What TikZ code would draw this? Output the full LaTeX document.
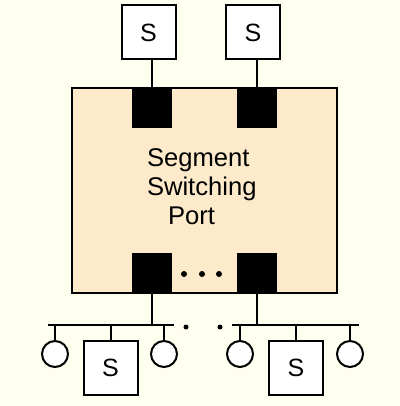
\documentclass[tikz,border=0pt]{standalone}
\usepackage{fontspec}
\setmainfont{Liberation Sans}
\usetikzlibrary{positioning}
\definecolor{paper}{HTML}{FFFFF0}
\definecolor{peach}{HTML}{FCEACB}
\begin{document}
\begin{tikzpicture}[x=0.5pt,y=-0.5pt,line width=1pt]
\tikzstyle{every node}+=[inner sep=0pt]
\tikzstyle{sbox}=[draw, fill=white, minimum size=27pt, font=\fontsize{12.5}{14}\selectfont]
\tikzstyle{port}=[fill=black, minimum size=20pt]
\tikzstyle{stub}=[draw, circle, fill=white, minimum size=13pt]
\tikzstyle{dot}=[fill=black, circle, minimum size=3pt]
\fill [paper] (0,0) rectangle (400,406);
\useasboundingbox (0,0) rectangle (400,406);
% switch body
\node [draw, fill=peach, minimum width=132.5pt, minimum height=102.5pt] (sw) at (204.5,190.5) {};
\node [align=left, font=\fontsize{12.8}{14.5}\selectfont, anchor=north west] (lbl) at (146,148) {Segment\\Switching\\\hspace*{10.5pt}Port};
% ports
\node [port] (p1) at (152,108) {};
\node [port] (p2) at (257,108) {};
\node [port] (p3) at (152,273) {};
\node [port] (p4) at (257,273) {};
\node [dot] (d1) at (184,274) {};
\node [dot] (d2) at (202,274) {};
\node [dot] (d3) at (219,274) {};
% top stations
\node [sbox] (s1) at (148.5,32.5) {S};
\node [sbox] (s2) at (253,32.5) {S};
\draw (s1.south -| p1) -- (p1.north);
\draw (s2.south -| p2) -- (p2.north);
% lower segments
\coordinate (busA) at (48,325);
\coordinate (busB) at (174,325);
\coordinate (busC) at (232,325);
\coordinate (busD) at (359,325);
\draw (busA) -- (busB);
\draw (busC) -- (busD);
\draw (p3.south) -- (p3.south |- busA);
\draw (p4.south) -- (p4.south |- busC);
\node [dot, minimum size=2.5pt] (d4) at (186,327) {};
\node [dot, minimum size=2.5pt] (d5) at (220,327) {};
\node [stub] (c1) at (55,354) {};
\node [sbox] (s3) at (110.5,368) {S};
\node [stub] (c2) at (164,354) {};
\node [stub] (c3) at (240,354) {};
\node [sbox] (s4) at (296,368) {S};
\node [stub] (c4) at (350,354) {};
\draw (c1.north) -- (c1.north |- busA);
\draw (s3.north) -- (s3.north |- busA);
\draw (c2.north) -- (c2.north |- busA);
\draw (c3.north) -- (c3.north |- busC);
\draw (s4.north) -- (s4.north |- busC);
\draw (c4.north) -- (c4.north |- busC);
\end{tikzpicture}
\end{document}
